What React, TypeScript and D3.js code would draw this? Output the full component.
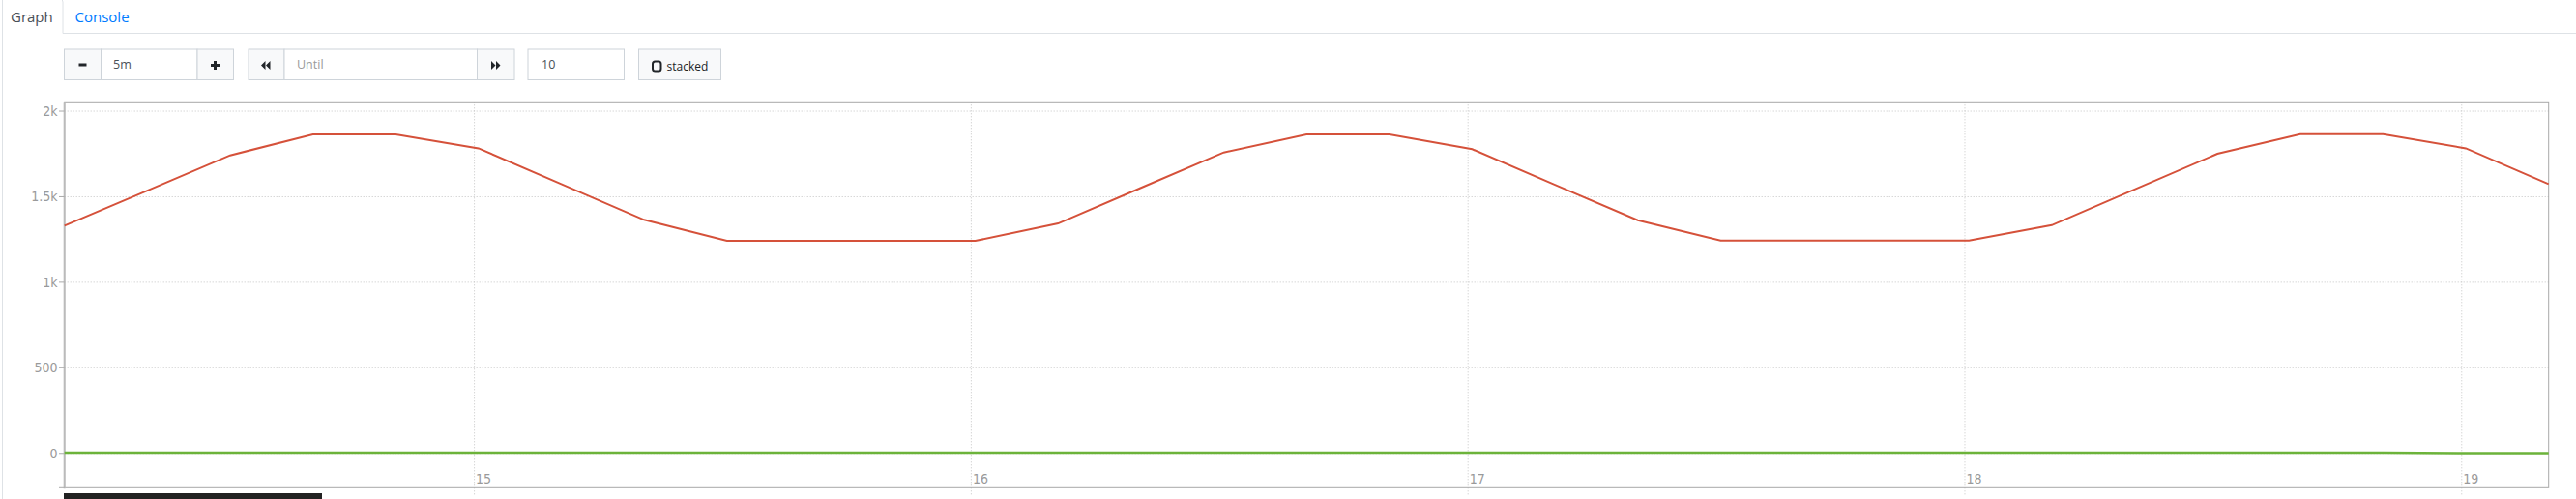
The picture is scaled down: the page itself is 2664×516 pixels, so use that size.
import * as d3 from "d3";

// sample times (UTC, 10 minute steps) and values
const timeLabels = [
  "14:10", "14:20", "14:30", "14:40", "14:50", "15:00", "15:10", "15:20",
  "15:30", "15:40", "15:50", "16:00", "16:10", "16:20", "16:30", "16:40",
  "16:50", "17:00", "17:10", "17:20", "17:30", "17:40", "17:50", "18:00",
  "18:10", "18:20", "18:30", "18:40", "18:50", "19:00", "19:10",
];
const redValues = [
  1331, 1536, 1742, 1864, 1864, 1783, 1574, 1365, 1242, 1242, 1242, 1242,
  1344, 1552, 1759, 1864, 1864, 1778, 1570, 1363, 1244, 1244, 1244, 1244,
  1334, 1543, 1751, 1866, 1866, 1783, 1574,
];
const greenValues = [
  4, 4, 4, 4, 4, 4, 4, 4, 4, 4, 4, 4, 4, 4, 4, 4,
  4, 4, 4, 4, 4, 4, 4, 4, 4, 4, 4, 4, 4, 1, 1,
];
const yTicks = [0, 500, 1000, 1500, 2000];
const yTickLabels = ["0", "500", "1k", "1.5k", "2k"];

const W = 2664;
const H = 516;
const plot = { left: 66.7, right: 2635.7, top: 105.3, bottom: 504.3 };
const uiFont = "'Open Sans', 'Noto Sans', sans-serif";
const axisFont = "'Liberation Sans Narrow', 'DejaVu Sans Condensed', sans-serif";

const toDate = (s: string) => new Date(`2019-05-14T${s}:30Z`);
const times = timeLabels.map(toDate);

export default function App() {
  const x = d3
    .scaleUtc()
    .domain([times[0], times[times.length - 1]])
    .range([plot.left, plot.right]);
  const y = d3.scaleLinear().domain([-201, 2055]).range([plot.bottom, plot.top]);

  const line = d3
    .line<number>()
    .x((_, i) => x(times[i]))
    .y((d) => y(d));

  const hours = x.ticks(d3.utcHour.every(1)!);
  const fmt = d3.utcFormat("%H");

  return (
    <div style={{ position: "absolute", left: 0, top: 0 }}>
      <svg width={W} height={H} style={{ display: "block", background: "#fff" }}>
        {/* tabs */}
        <path
          d="M2.5,-2 L61,-2 Q65,-2 65,2 L65,34.5 L2664,34.5"
          fill="none"
          stroke="#dee2e6"
        />
        <line x1={2.5} x2={2.5} y1={-2} y2={H} stroke="#dee2e6" />
        <text x={11} y={22.5} fontFamily={uiFont} fontSize={15} fill="#495057">
          Graph
        </text>
        <text x={77.5} y={22.5} fontFamily={uiFont} fontSize={15} fill="#007bff">
          Console
        </text>

        {/* range controls */}
        <g fontFamily={uiFont} fontSize={12.5}>
          <rect x={66.5} y={51} width={38} height={31.5} fill="#f8f9fa" stroke="#ced4da" />
          <rect x={81.5} y={65.5} width={8} height={3} fill="#212529" />
          <rect x={104.5} y={51} width={99.5} height={31.5} fill="#fff" stroke="#ced4da" />
          <text x={117} y={71} fill="#495057">5m</text>
          <rect x={204} y={51} width={37.5} height={31.5} fill="#f8f9fa" stroke="#ced4da" />
          <rect x={218} y={66} width={9} height={3} fill="#212529" />
          <rect x={221} y={63} width={3} height={9} fill="#212529" />

          <rect x={257} y={51} width={37} height={31.5} fill="#f8f9fa" stroke="#ced4da" />
          <path d="M270,67.5 L274.5,63 L274.5,72 Z M275,67.5 L279.5,63 L279.5,72 Z" fill="#212529" />
          <rect x={294} y={51} width={199.5} height={31.5} fill="#fff" stroke="#ced4da" />
          <text x={307} y={71} fill="#9a9a9a">Until</text>
          <rect x={493.5} y={51} width={38.5} height={31.5} fill="#f8f9fa" stroke="#ced4da" />
          <path d="M508,63 L512.5,67.5 L508,72 Z M513,63 L517.5,67.5 L513,72 Z" fill="#212529" />

          <rect x={546} y={51} width={99.5} height={31.5} fill="#fff" stroke="#ced4da" />
          <text x={560} y={71} fill="#495057">10</text>

          <rect x={660.5} y={51} width={85} height={31.5} fill="#f8f9fa" stroke="#ced4da" />
          <rect x={675} y={63.5} width={8.5} height={10} rx={2.5} fill="none" stroke="#212529" strokeWidth={2} />
          <text x={689.5} y={72.5} fill="#212529" fontSize={12}>stacked</text>
        </g>

        {/* grid */}
        <g stroke="#c4c4c4" strokeDasharray="1,2">
          {yTicks.map((t) => (
            <line key={t} x1={plot.left} x2={plot.right} y1={y(t)} y2={y(t)} />
          ))}
          {hours.map((h) => (
            <line key={+h} x1={x(h)} x2={x(h)} y1={plot.top} y2={512} />
          ))}
        </g>

        {/* frame */}
        <rect
          x={plot.left}
          y={plot.top}
          width={plot.right - plot.left}
          height={plot.bottom - plot.top}
          fill="none"
          stroke="#a8a8a8"
        />
        <line x1={plot.left} x2={plot.left} y1={plot.top} y2={plot.bottom + 1} stroke="#bbb" strokeWidth={2} />

        {/* y axis */}
        <g fontFamily={axisFont} fontSize={14} fill="#9a9a9a">
          {yTicks.map((t, i) => (
            <g key={t}>
              <line x1={61} x2={plot.left} y1={y(t)} y2={y(t)} stroke="#aaa" />
              <text x={59.5} y={y(t)} dy="0.36em" textAnchor="end">
                {yTickLabels[i]}
              </text>
            </g>
          ))}
          <line x1={61} x2={plot.left} y1={plot.bottom} y2={plot.bottom} stroke="#aaa" />
        </g>

        {/* x axis labels */}
        <g fontFamily={axisFont} fontSize={14} fill="#9a9a9a">
          {hours.map((h) => (
            <text key={+h} x={x(h) + 1.5} y={499.5}>
              {fmt(h)}
            </text>
          ))}
        </g>

        {/* series */}
        <path d={line(greenValues) ?? ""} fill="none" stroke="#6cb33a" strokeWidth={2.5} />
        <path d={line(redValues) ?? ""} fill="none" stroke="#d5513a" strokeWidth={2} />

        {/* dark bar at bottom (legend top) */}
        <rect x={66} y={510} width={267} height={10} fill="#222" />
      </svg>
    </div>
  );
}
